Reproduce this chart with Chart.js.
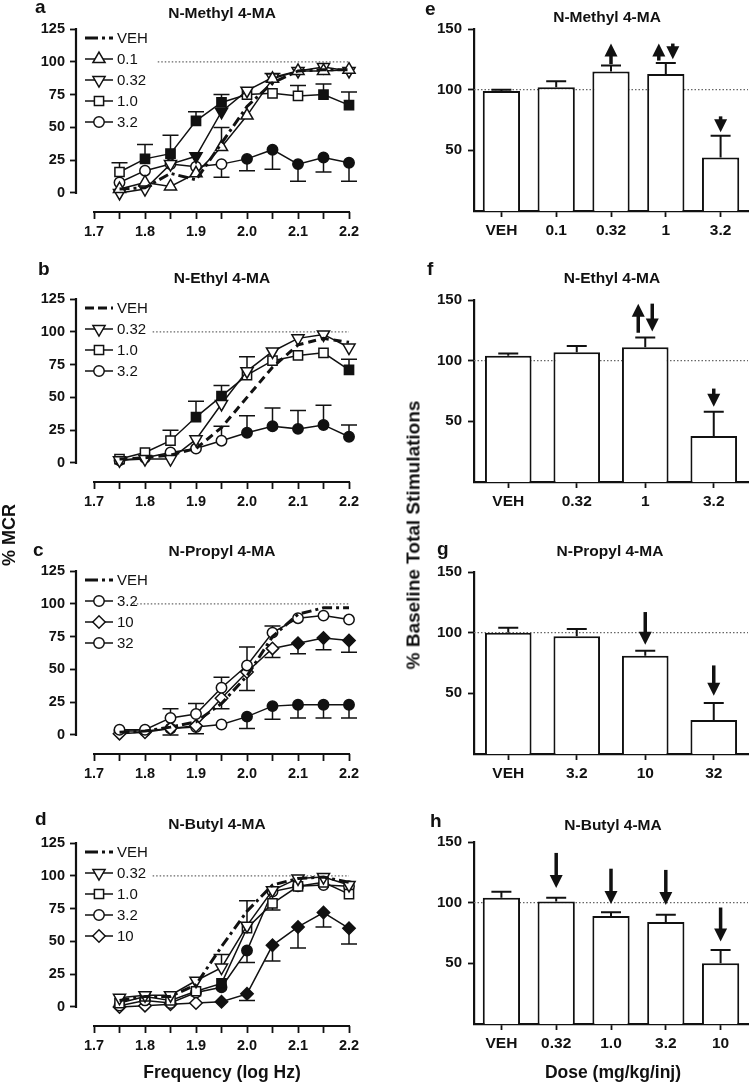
<!DOCTYPE html>
<html lang="en">
  <head>
    <meta charset="UTF-8" />
    <title>4-MA analogs - ICSS</title>
    <script src="https://cdn.jsdelivr.net/npm/chart.js@4.4.1/dist/chart.umd.min.js"></script>
    <style>
      body { margin: 0; background: #fff; }
      #fig { position: relative; width: 751px; height: 1084px; overflow: hidden; font-family: "Liberation Sans", Arial, sans-serif; color: #111; }
      .panel { position: absolute; }
      .txt { position: absolute; font-weight: bold; white-space: nowrap; line-height: 1; }
      .rot { transform: translate(-50%, -50%) rotate(-90deg); }
      .ctr { transform: translate(-50%, -50%); }
    </style>
  </head>
  <body>
    <div id="fig">
      <canvas id="cA" class="panel" width="380" height="262" style="left:0;top:0"></canvas>
      <canvas id="cB" class="panel" width="380" height="262" style="left:0;top:270px"></canvas>
      <canvas id="cC" class="panel" width="380" height="262" style="left:0;top:542px"></canvas>
      <canvas id="cD" class="panel" width="380" height="262" style="left:0;top:814px"></canvas>
      <canvas id="cE" class="panel" width="371" height="262" style="left:380px;top:0"></canvas>
      <canvas id="cF" class="panel" width="371" height="262" style="left:380px;top:271px"></canvas>
      <canvas id="cG" class="panel" width="371" height="262" style="left:380px;top:543px"></canvas>
      <canvas id="cH" class="panel" width="371" height="262" style="left:380px;top:813px"></canvas>

      <!-- panel letters -->
      <div class="txt" style="font-size:19px;left:35px;top:-3px">a</div>
      <div class="txt" style="font-size:19px;left:38px;top:259px">b</div>
      <div class="txt" style="font-size:19px;left:33px;top:540px">c</div>
      <div class="txt" style="font-size:19px;left:35px;top:809px">d</div>
      <div class="txt" style="font-size:19px;left:425px;top:-1px">e</div>
      <div class="txt" style="font-size:19px;left:427px;top:259px">f</div>
      <div class="txt" style="font-size:19px;left:437px;top:539px">g</div>
      <div class="txt" style="font-size:19px;left:430px;top:811px">h</div>

      <!-- axis titles -->
      <div class="txt rot" style="font-size:18px;left:9px;top:535px">% MCR</div>
      <div class="txt rot" style="font-size:19px;left:413px;top:535px">% Baseline Total Stimulations</div>
      <div class="txt ctr" style="font-size:17.5px;left:222px;top:1073px">Frequency (log Hz)</div>
      <div class="txt ctr" style="font-size:17.5px;left:613px;top:1073px">Dose (mg/kg/inj)</div>
    </div>

    <script>
      // ---- data ----
      const freq = [1.75, 1.8, 1.85, 1.9, 1.95, 2.0, 2.05, 2.1, 2.15, 2.2];
      const freqTicks = [1.7, 1.75, 1.8, 1.85, 1.9, 1.95, 2.0, 2.05, 2.1, 2.15, 2.2];
      const mcrTicks = [0, 25, 50, 75, 100, 125];
      const stimTicks = [50, 100, 150];

      // a: N-Methyl 4-MA
      const aVeh = [3, 4, 15, 10, 38, 66, 84, 93, 94, 94];
      const a01 = [3, 8, 5, 15, 35, 59, 87, 93, 93, 94];
      const a01Err = [0, 0, 0, 0, 15, 0, 4, 0, 0, 0];
      const a032 = [0, 3, 22, 28, 62, 78, 88, 93, 96, 93];
      const a032Sig = [0, 0, 0, 1, 1, 0, 0, 0, 0, 0];
      const a10 = [16, 26, 30, 55, 69, 75, 76, 74, 75, 67];
      const a10Sig = [0, 1, 1, 1, 1, 0, 0, 0, 1, 1];
      const a10Err = [7, 11, 14, 7, 6, 0, 0, 8, 8, 10];
      const a32 = [8, 17, 22, 20, 22, 26, 33, 22, 27, 23];
      const a32Sig = [0, 0, 0, 0, 0, 1, 1, 1, 1, 1];
      const a32Err = [0, 0, 0, 0, -10, -9, -15, -13, -11, -14];

      // b: N-Ethyl 4-MA
      const bVeh = [3, 4, 6, 11, 27, 50, 73, 90, 95, 92];
      const b032 = [2, 3, 3, 18, 45, 70, 85, 95, 98, 88];
      const b10 = [3, 8, 17, 35, 51, 67, 78, 82, 84, 71];
      const b10Sig = [0, 0, 0, 1, 1, 0, 0, 0, 0, 1];
      const b10Err = [0, 0, 8, 12, 8, 14, 0, 0, 0, 8];
      const b32 = [2, 4, 8, 11, 17, 23, 28, 26, 29, 20];
      const b32Sig = [0, 0, 0, 0, 0, 1, 1, 1, 1, 1];
      const b32Err = [0, 0, 0, 0, 11, 13, 14, 14, 15, 9];

      // c: N-Propyl 4-MA
      const cVeh = [2, 3, 6, 10, 24, 45, 75, 92, 97, 97];
      const c32 = [4, 4, 13, 16, 36, 53, 78, 89, 91, 88];
      const c32Err = [0, 0, 7, 8, 8, 14, 5, 0, 0, 0];
      const c100 = [1, 2, 5, 7, 28, 48, 66, 70, 74, 72];
      const c100Sig = [0, 0, 0, 0, 0, 0, 0, 1, 1, 1];
      const c100Err = [0, 0, 0, 0, -8, -14, -7, -8, -9, -9];
      const c320 = [3, 3, 5, 6, 8, 14, 22, 23, 23, 23];
      const c320Sig = [0, 0, 0, 0, 0, 1, 1, 1, 1, 1];
      const c320Err = [0, 0, -5, -5, 0, -9, -10, -10, -10, -10];

      // d: N-Butyl 4-MA
      const dVeh = [5, 8, 8, 17, 46, 73, 93, 98, 99, 95];
      const d032 = [7, 9, 9, 20, 30, 62, 89, 98, 99, 93];
      const d032Err = [0, 0, 0, 0, 10, 19, 0, 0, 0, 0];
      const d10 = [3, 8, 5, 12, 18, 60, 79, 92, 95, 86];
      const d10Sig = [0, 0, 0, 0, 1, 0, 0, 0, 0, 0];
      const d10Err = [0, 0, 0, 0, 0, 0, -5, 0, 0, 0];
      const d32 = [1, 5, 3, 11, 15, 43, 88, 92, 93, 92];
      const d32Sig = [0, 0, 0, 0, 1, 1, 0, 0, 0, 0];
      const d32Err = [0, 0, 0, 0, 0, -9, 0, 0, 0, 0];
      const d100 = [0, 1, 2, 3, 4, 10, 47, 61, 72, 60];
      const d100Sig = [0, 0, 0, 0, 1, 1, 1, 1, 1, 1];
      const d100Err = [0, 0, 0, 0, 0, -5, -12, -16, -11, -12];

      // e-h: total stimulations (% baseline)
      const eDoses = ['VEH', '0.1', '0.32', '1', '3.2'];
      const eVals = [99, 102, 115, 113, 44];
      const eErr = [1, 5, 5, 9, 18];
      const fDoses = ['VEH', '0.32', '1', '3.2'];
      const fVals = [104, 107, 111, 38];
      const fErr = [2, 5, 8, 20];
      const gDoses = ['VEH', '3.2', '10', '32'];
      const gVals = [100, 97, 81, 28];
      const gErr = [4, 6, 4, 14];
      const hDoses = ['VEH', '0.32', '1.0', '3.2', '10'];
      const hVals = [104, 101, 89, 84, 50];
      const hErr = [5, 3, 3, 6, 11];

      // arrows: [bar index, direction, from value, tip value, side]
      const eArrows = [[2, 'up', 121, 138, 0], [3, 'up', 124, 138, -1], [3, 'down', 138, 125, 1], [4, 'down', 78, 65, 0]];
      const fArrows = [[2, 'up', 123, 147, -1], [2, 'down', 147, 124, 1], [3, 'down', 77, 62, 0]];
      const gArrows = [[2, 'down', 117, 90, 0], [3, 'down', 73, 48, 0]];
      const hArrows = [[1, 'down', 141, 112, 0], [2, 'down', 128, 99, 0], [3, 'down', 127, 98, 0], [4, 'down', 96, 68, 0]];

      // ---- styling ----
      const FONT = '"Liberation Sans", Arial, sans-serif';
      const INK = '#111';
      Chart.defaults.font.family = FONT;
      Chart.defaults.color = INK;

      const MARK = {
        triUp: { pointStyle: 'triangle', rotation: 0, r: 7 },
        triDown: { pointStyle: 'triangle', rotation: 180, r: 7 },
        square: { pointStyle: 'rect', rotation: 0, r: 6.5 },
        circle: { pointStyle: 'circle', rotation: 0, r: 5.2 },
        diamond: { pointStyle: 'rectRot', rotation: 0, r: 6.2 },
      };
      const DASHDOT = [10, 4, 3, 4];
      const DASHED = [8, 5];

      function drawMarker(ctx, mark, x, y) {
        const m = MARK[mark];
        Chart.helpers.drawPoint(ctx, { pointStyle: m.pointStyle, rotation: m.rotation, radius: m.r, borderWidth: 1.5 }, x, y);
      }

      // panel title
      const panelTitle = {
        id: 'panelTitle',
        afterDraw(chart, args, o) {
          const ctx = chart.ctx;
          ctx.save();
          ctx.fillStyle = INK;
          ctx.font = 'bold 15.5px ' + FONT;
          ctx.textAlign = 'center';
          ctx.textBaseline = 'alphabetic';
          ctx.fillText(o.text, o.x, o.y);
          ctx.restore();
        },
      };

      // axes drawn detached (Prism style), 100% line and error bars
      const lineDecor = {
        id: 'lineDecor',
        beforeDatasetsDraw(chart, args, o) {
          const { ctx, chartArea: ca, scales: { x, y } } = chart;
          ctx.save();
          ctx.strokeStyle = '#666';
          ctx.lineWidth = 1.2;
          ctx.setLineDash([1.5, 2]);
          ctx.beginPath();
          ctx.moveTo(x.getPixelForValue(o.refFrom), y.getPixelForValue(100));
          ctx.lineTo(x.getPixelForValue(2.2), y.getPixelForValue(100));
          ctx.stroke();
          ctx.setLineDash([]);
          ctx.strokeStyle = INK;
          ctx.lineWidth = 2.2;
          ctx.beginPath();
          ctx.moveTo(ca.left, y.getPixelForValue(125) - 1);
          ctx.lineTo(ca.left, y.getPixelForValue(0) + 1);
          ctx.moveTo(x.getPixelForValue(1.7) - 1, ca.bottom);
          ctx.lineTo(x.getPixelForValue(2.2) + 1, ca.bottom);
          ctx.stroke();
          // error bars
          ctx.lineWidth = 1.5;
          chart.data.datasets.forEach((ds) => {
            (ds.errors || []).forEach((e, i) => {
              if (!e) return;
              const px = x.getPixelForValue(ds.data[i].x);
              const p0 = y.getPixelForValue(ds.data[i].y);
              const p1 = y.getPixelForValue(ds.data[i].y + e);
              ctx.beginPath();
              ctx.moveTo(px, p0);
              ctx.lineTo(px, p1);
              ctx.moveTo(px - 8, p1);
              ctx.lineTo(px + 8, p1);
              ctx.stroke();
            });
          });
          ctx.restore();
        },
        afterDatasetsDraw(chart) {
          // Prism-like legend in the upper left corner
          const { ctx, chartArea: ca } = chart;
          ctx.save();
          chart.data.datasets.forEach((ds, i) => {
            const ly = ca.top + 9 + i * 21;
            ctx.strokeStyle = INK;
            ctx.lineWidth = ds.mark ? 1.5 : 3;
            ctx.setLineDash(ds.mark ? [] : (ds.borderDash === DASHED ? [9, 4] : [13, 4, 3, 4]));
            ctx.beginPath();
            ctx.moveTo(ca.left + 9, ly);
            ctx.lineTo(ca.left + 37, ly);
            ctx.stroke();
            ctx.setLineDash([]);
            if (ds.mark) {
              ctx.fillStyle = '#fff';
              ctx.lineWidth = 1.5;
              drawMarker(ctx, ds.mark, ca.left + 23, ly);
            }
            ctx.fillStyle = INK;
            ctx.font = '15px ' + FONT;
            ctx.textBaseline = 'middle';
            ctx.fillText(ds.label, ca.left + 41, ly + 1);
          });
          ctx.restore();
        },
      };

      function line(label, vals, mark, sig, err, dash) {
        const m = mark ? MARK[mark] : null;
        return {
          label,
          mark,
          data: freq.map((f, i) => ({ x: f, y: vals[i] })),
          errors: err || [],
          clip: false,
          borderColor: INK,
          borderWidth: m ? 1.5 : 3,
          borderDash: m ? [] : dash,
          pointStyle: m ? m.pointStyle : 'circle',
          pointRotation: m ? m.rotation : 0,
          pointRadius: m ? m.r : 0,
          pointHoverRadius: m ? m.r : 0,
          pointBorderColor: INK,
          pointBorderWidth: 1.5,
          pointBackgroundColor: vals.map((v, i) => (sig && sig[i] ? INK : '#fff')),
          tension: 0,
          fill: false,
        };
      }

      function lineChart(id, title, titleX, titleY, refFrom, datasets) {
        return new Chart(document.getElementById(id), {
          type: 'line',
          data: { datasets },
          options: {
            responsive: false,
            animation: false,
            devicePixelRatio: 1,
            layout: { padding: { top: 29, right: 31, left: 0, bottom: 0 } },
            plugins: {
              legend: { display: false },
              tooltip: { enabled: false },
              panelTitle: { text: title, x: titleX, y: titleY },
              lineDecor: { refFrom },
            },
            scales: {
              x: {
                type: 'linear',
                min: 1.6647,
                max: 2.2,
                afterBuildTicks: (s) => { s.ticks = freqTicks.map((v) => ({ value: v })); },
                afterFit: (s) => { s.height = 50; },
                border: { display: false },
                grid: { drawOnChartArea: false, drawTicks: true, tickLength: 7, tickWidth: 1.8, tickColor: INK },
                ticks: {
                  autoSkip: false,
                  maxRotation: 0,
                  padding: 4,
                  color: INK,
                  font: { size: 14.5, weight: 'bold' },
                  callback: (v) => (Math.abs(v * 10 - Math.round(v * 10)) < 1e-6 ? v.toFixed(1) : ''),
                },
              },
              y: {
                min: -14.5,
                max: 125,
                afterBuildTicks: (s) => { s.ticks = mcrTicks.map((v) => ({ value: v })); },
                afterFit: (s) => { s.width = 76; },
                border: { display: false },
                grid: { drawOnChartArea: false, drawTicks: true, tickLength: 6, tickWidth: 1.8, tickColor: INK },
                ticks: { padding: 5, color: INK, font: { size: 14.5, weight: 'bold' } },
              },
            },
          },
          plugins: [lineDecor, panelTitle],
        });
      }

      const barDecor = {
        id: 'barDecor',
        beforeDatasetsDraw(chart) {
          const { ctx, chartArea: ca, scales: { y } } = chart;
          ctx.save();
          ctx.strokeStyle = '#666';
          ctx.lineWidth = 1.2;
          ctx.setLineDash([1.5, 2]);
          ctx.beginPath();
          ctx.moveTo(ca.left, y.getPixelForValue(100));
          ctx.lineTo(ca.right, y.getPixelForValue(100));
          ctx.stroke();
          ctx.restore();
        },
        afterDatasetsDraw(chart, args, o) {
          const { ctx, scales: { y } } = chart;
          const ds = chart.data.datasets[0];
          const bars = chart.getDatasetMeta(0).data;
          ctx.save();
          ctx.strokeStyle = INK;
          ctx.fillStyle = INK;
          ctx.lineWidth = 2;
          ds.data.forEach((v, i) => {
            const bx = bars[i].x;
            const p1 = y.getPixelForValue(v + ds.errors[i]);
            ctx.beginPath();
            ctx.moveTo(bx, y.getPixelForValue(v));
            ctx.lineTo(bx, p1);
            ctx.moveTo(bx - 10, p1);
            ctx.lineTo(bx + 10, p1);
            ctx.stroke();
          });
          (o.arrows || []).forEach(([i, dir, from, to, side]) => {
            const ax = bars[i].x + side * 7;
            const pFrom = y.getPixelForValue(from);
            const pTip = y.getPixelForValue(to);
            const s = dir === 'up' ? 1 : -1;
            const head = 13;
            ctx.lineWidth = 3.5;
            ctx.beginPath();
            ctx.moveTo(ax, pFrom);
            ctx.lineTo(ax, pTip + s * head * 0.8);
            ctx.stroke();
            ctx.beginPath();
            ctx.moveTo(ax, pTip);
            ctx.lineTo(ax - 6.5, pTip + s * head);
            ctx.lineTo(ax + 6.5, pTip + s * head);
            ctx.closePath();
            ctx.fill();
          });
          ctx.restore();
        },
      };

      function barChart(id, title, titleX, titleY, labels, vals, err, arrows) {
        return new Chart(document.getElementById(id), {
          type: 'bar',
          data: {
            labels,
            datasets: [{
              data: vals,
              errors: err,
              backgroundColor: '#fff',
              borderColor: INK,
              borderWidth: 2,
              barPercentage: 0.68,
              categoryPercentage: 1,
            }],
          },
          options: {
            responsive: false,
            animation: false,
            devicePixelRatio: 1,
            layout: { padding: { top: 29, right: 3, left: 0, bottom: 0 } },
            plugins: {
              legend: { display: false },
              tooltip: { enabled: false },
              panelTitle: { text: title, x: titleX, y: titleY },
              barDecor: { arrows },
            },
            scales: {
              x: {
                z: 1,
                afterFit: (s) => { s.height = 51; },
                border: { color: INK, width: 2.2 },
                grid: { offset: false, drawOnChartArea: false, drawTicks: true, tickLength: 6, tickWidth: 1.8, tickColor: INK },
                ticks: { padding: 4, color: INK, font: { size: 15.5, weight: 'bold' } },
              },
              y: {
                min: 0,
                max: 150,
                afterBuildTicks: (s) => { s.ticks = stimTicks.map((v) => ({ value: v })); },
                afterFit: (s) => { s.width = 94; },
                border: { color: INK, width: 2.2 },
                grid: { drawOnChartArea: false, drawTicks: true, tickLength: 6, tickWidth: 1.8, tickColor: INK },
                ticks: { padding: 6, color: INK, font: { size: 15, weight: 'bold' } },
              },
            },
          },
          plugins: [barDecor, panelTitle],
        });
      }

      lineChart('cA', 'N-Methyl 4-MA', 222, 18, 1.825, [
        line('VEH', aVeh, null, null, null, DASHDOT),
        line('0.1', a01, 'triUp', null, a01Err),
        line('0.32', a032, 'triDown', a032Sig, null),
        line('1.0', a10, 'square', a10Sig, a10Err),
        line('3.2', a32, 'circle', a32Sig, a32Err),
      ]);
      lineChart('cB', 'N-Ethyl 4-MA', 222, 13, 1.815, [
        line('VEH', bVeh, null, null, null, DASHED),
        line('0.32', b032, 'triDown', null, null),
        line('1.0', b10, 'square', b10Sig, b10Err),
        line('3.2', b32, 'circle', b32Sig, b32Err),
      ]);
      lineChart('cC', 'N-Propyl 4-MA', 222, 14, 1.777, [
        line('VEH', cVeh, null, null, null, DASHDOT),
        line('3.2', c32, 'circle', null, c32Err),
        line('10', c100, 'diamond', c100Sig, c100Err),
        line('32', c320, 'circle', c320Sig, c320Err),
      ]);
      lineChart('cD', 'N-Butyl 4-MA', 217, 14.5, 1.815, [
        line('VEH', dVeh, null, null, null, DASHDOT),
        line('0.32', d032, 'triDown', null, d032Err),
        line('1.0', d10, 'square', d10Sig, d10Err),
        line('3.2', d32, 'circle', d32Sig, d32Err),
        line('10', d100, 'diamond', d100Sig, d100Err),
      ]);

      barChart('cE', 'N-Methyl 4-MA', 227, 22, eDoses, eVals, eErr, eArrows);
      barChart('cF', 'N-Ethyl 4-MA', 232, 12, fDoses, fVals, fErr, fArrows);
      barChart('cG', 'N-Propyl 4-MA', 230, 12.5, gDoses, gVals, gErr, gArrows);
      barChart('cH', 'N-Butyl 4-MA', 233, 16.5, hDoses, hVals, hErr, hArrows);
    </script>
  </body>
</html>
